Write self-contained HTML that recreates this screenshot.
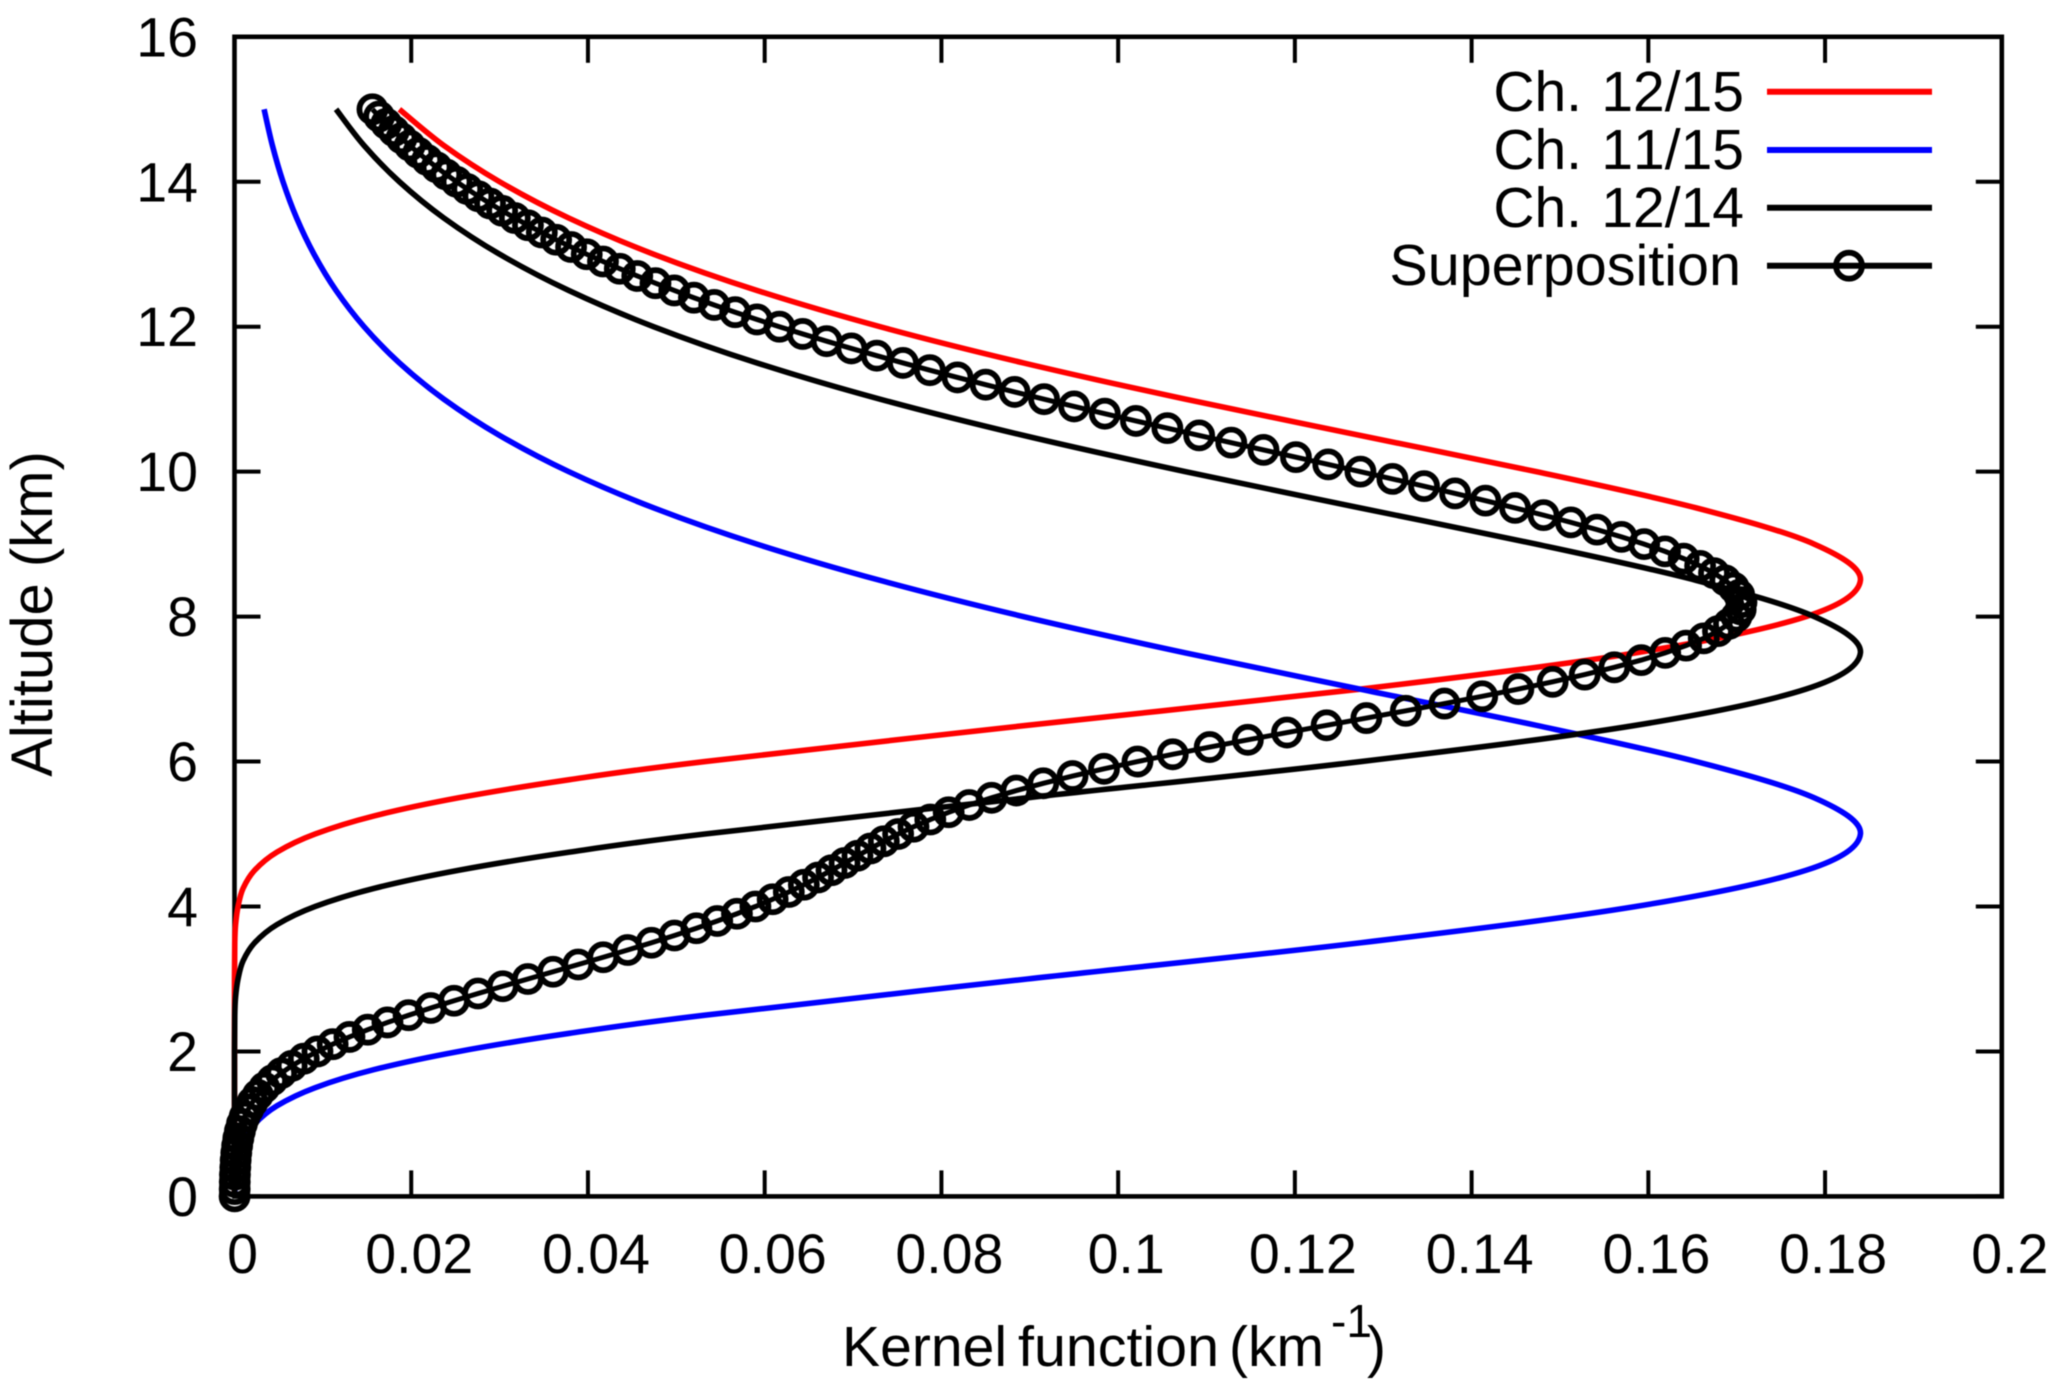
<!DOCTYPE html>
<html lang="en">
<head>
<meta charset="utf-8">
<title>Kernel function vs altitude</title>
<style>
html,body{margin:0;padding:0;background:#fff;width:2067px;height:1393px;overflow:hidden}
svg{display:block;filter:blur(0.5px)}
text{font-family:"Liberation Sans",Arial,sans-serif;fill:#000;font-kerning:none}
</style>
</head>
<body>
<svg id="chart" xmlns="http://www.w3.org/2000/svg" width="2067" height="1393" viewBox="0 0 2067 1393">
  <rect x="0" y="0" width="2067" height="1393" fill="#fff"/>
  <g id="axes"></g>
  <g id="series"></g>
  <text transform="translate(52,614) rotate(-90)" text-anchor="middle" font-size="58">Altitude (km)</text>
  <text font-size="57"><tspan x="842" y="1366" textLength="165" lengthAdjust="spacingAndGlyphs">Kernel</tspan><tspan x="1018" y="1366" textLength="201" lengthAdjust="spacingAndGlyphs">function</tspan><tspan x="1229" y="1366" textLength="95" lengthAdjust="spacingAndGlyphs">(km</tspan><tspan x="1331" y="1337" font-size="46">-1</tspan><tspan x="1367" y="1366">)</tspan></text>
  <g>
    <text x="1744" y="111" text-anchor="end" font-size="57" style="word-spacing:3.5px">Ch. 12/15</text>
    <line x1="1767" x2="1932" y1="91.7" y2="91.7" stroke="#f00" stroke-width="6"/>
    <text x="1744" y="169" text-anchor="end" font-size="57" style="word-spacing:3.5px">Ch. 11/15</text>
    <line x1="1767" x2="1932" y1="150" y2="150" stroke="#00f" stroke-width="6"/>
    <text x="1744" y="227" text-anchor="end" font-size="57" style="word-spacing:3.5px">Ch. 12/14</text>
    <line x1="1767" x2="1932" y1="207.7" y2="207.7" stroke="#000" stroke-width="6"/>
    <text x="1741" y="285" text-anchor="end" font-size="57.5">Superposition</text>
    <line x1="1767" x2="1932" y1="265.7" y2="265.7" stroke="#000" stroke-width="6"/>
    <circle cx="1849" cy="265.7" r="13" fill="none" stroke="#000" stroke-width="5.8"/>
  </g>
</svg>
<script>
const xTickValues = [0, 0.02, 0.04, 0.06, 0.08, 0.1, 0.12, 0.14, 0.16, 0.18, 0.2];
const xTickLabels = ["0", "0.02", "0.04", "0.06", "0.08", "0.1", "0.12", "0.14", "0.16", "0.18", "0.2"];
const yTickValues = [0, 2, 4, 6, 8, 10, 12, 14, 16];
const yTickLabels = ["0", "2", "4", "6", "8", "10", "12", "14", "16"];

const ch1215Altitudes = [0,1,2,3,3.5,3.75,4,4.25,4.5,4.75,5,5.25,5.5,5.75,6,6.5,7,7.5,8,8.5,9,9.5,10,10.5,11,11.5,12,12.5,13,13.5,14,14.5,15];
const ch1215Values = [0,0,0,0,0.00003,0.00012,0.0004,0.00097,0.00228,0.0048,0.00912,0.0158,0.02537,0.0379,0.05323,0.08972,0.12748,0.15857,0.17785,0.184,0.17878,0.16541,0.14732,0.12736,0.1076,0.08928,0.07305,0.05912,0.04744,0.03782,0.03,0.02369,0.01866];

const ch1115Altitudes = [0,0.25,0.5,0.75,1,1.25,1.5,1.75,2,2.25,2.5,3,3.5,4,4.5,5,5.5,6,6.5,7,7.5,8,8.5,9,9.5,10,10.5,11,11.5,12,12.5,13,13.5,14,14.5,15];
const ch1115Values = [0.00003,0.00012,0.0004,0.00097,0.00228,0.0048,0.00912,0.0158,0.02537,0.0379,0.05323,0.08972,0.12748,0.15857,0.17785,0.184,0.17878,0.16541,0.14732,0.12736,0.1076,0.08928,0.07305,0.05912,0.04744,0.03782,0.03,0.02369,0.01866,0.01466,0.01149,0.009,0.00703,0.00549,0.00429,0.00335];

const ch1214Altitudes = [0,1,2,2.5,2.75,3,3.25,3.5,3.75,4,4.25,4.5,4.75,5,5.5,6,6.5,7,7.5,8,8.5,9,9.5,10,10.5,11,11.5,12,12.5,13,13.5,14,14.5,15];
const ch1214Values = [0,0,0,0.00003,0.00012,0.0004,0.00097,0.00228,0.0048,0.00912,0.0158,0.02537,0.0379,0.05323,0.08972,0.12748,0.15857,0.17785,0.184,0.17878,0.16541,0.14732,0.12736,0.1076,0.08928,0.07305,0.05912,0.04744,0.03782,0.03,0.02369,0.01866,0.01466,0.01149];

const superpositionAltitudeStep = 0.1;
const superpositionValues = [
0.00001,0.00002,0.00003,0.00005,0.00009,0.00013,0.0002,0.0003,0.00043,0.00061,
0.00084,0.00115,0.00155,0.00204,0.00264,0.00337,0.00425,0.00528,0.00647,0.00784,
0.00939,0.01111,0.01301,0.01508,0.01731,0.0197,0.02221,0.02484,0.02756,0.03036,
0.0332,0.03605,0.0389,0.04173,0.04449,0.04719,0.04979,0.05227,0.05463,0.05686,
0.05895,0.0609,0.06273,0.06443,0.06604,0.06756,0.06904,0.0705,0.07197,0.07348,
0.0751,0.07684,0.07874,0.08082,0.08314,0.08568,0.08848,0.09153,0.09484,0.0984,
0.10219,0.10618,0.11036,0.11468,0.11911,0.12359,0.12809,0.13255,0.13693,0.1412,
0.14529,0.14917,0.1528,0.15615,0.1592,0.16191,0.16427,0.16627,0.16788,0.16912,
0.16997,0.17045,0.17054,0.17028,0.16966,0.16871,0.16743,0.16586,0.164,0.16189,
0.15953,0.15696,0.15419,0.15124,0.14814,0.14492,0.14157,0.13813,0.13462,0.13104,
0.12742,0.12378,0.12012,0.11645,0.1128,0.10917,0.10557,0.10201,0.09849,0.09502,
0.09162,0.08828,0.08501,0.08182,0.07869,0.07565,0.07269,0.06981,0.06701,0.0643,
0.06167,0.05913,0.05666,0.05429,0.05199,0.04977,0.04764,0.04558,0.0436,0.0417,
0.03986,0.03809,0.0364,0.03478,0.03321,0.03172,0.03029,0.02892,0.0276,0.02634,
0.02513,0.02397,0.02287,0.02181,0.0208,0.01983,0.0189,0.01803,0.01718,0.01637,
0.01561];

const NS = "http://www.w3.org/2000/svg";
const plotLeft = 234.5, plotRight = 2001.8, plotTop = 36.8, plotBottom = 1196.4;
const xMax = 0.2, yMax = 16;
function xScale(v) { return plotLeft + (v / xMax) * (plotRight - plotLeft); }
function yScale(v) { return plotBottom - (v / yMax) * (plotBottom - plotTop); }

const axes = document.getElementById("axes");
const series = document.getElementById("series");

function makeTick(x1, y1, x2, y2) {
  const t = document.createElementNS(NS, "line");
  t.setAttribute("x1", x1);
  t.setAttribute("y1", y1);
  t.setAttribute("x2", x2);
  t.setAttribute("y2", y2);
  t.setAttribute("stroke", "#000");
  t.setAttribute("stroke-width", "4");
  return t;
}

xTickValues.forEach(function (v, i) {
  const x = xScale(v);
  const bottom = makeTick(x, plotBottom, x, plotBottom - 26);
  
  
  axes.appendChild(bottom);
  const top = makeTick(x, plotTop, x, plotTop + 26);
  
  
  axes.appendChild(top);
  const label = document.createElementNS(NS, "text");
  label.setAttribute("x", x + 8);
  label.setAttribute("y", 1273);
  label.setAttribute("text-anchor", "middle");
  label.setAttribute("font-size", "55.5");
  label.textContent = xTickLabels[i];
  
  
  axes.appendChild(label);
});

yTickValues.forEach(function (v, i) {
  const y = yScale(v);
  const left = makeTick(plotLeft, y, plotLeft + 26, y);
  
  
  axes.appendChild(left);
  const right = makeTick(plotRight, y, plotRight - 26, y);
  
  
  axes.appendChild(right);
  const label = document.createElementNS(NS, "text");
  label.setAttribute("x", 198);
  label.setAttribute("y", y + 19.5);
  label.setAttribute("text-anchor", "end");
  label.setAttribute("font-size", "55.5");
  label.textContent = yTickLabels[i];
  
  
  axes.appendChild(label);
});

const frame = document.createElementNS(NS, "rect");
frame.setAttribute("x", plotLeft);
frame.setAttribute("y", plotTop);
frame.setAttribute("width", plotRight - plotLeft);
frame.setAttribute("height", plotBottom - plotTop);
frame.setAttribute("fill", "none");
frame.setAttribute("stroke", "#000");
frame.setAttribute("stroke-width", "4.6");


axes.appendChild(frame);

function smoothPath(altitudes, values) {
  const pts = values.map(function (v, i) { return [xScale(v), yScale(altitudes[i])]; });
  let d = "M" + pts[0][0].toFixed(2) + " " + pts[0][1].toFixed(2);
  for (let i = 0; i < pts.length - 1; i++) {
    const p0 = pts[Math.max(i - 1, 0)], p1 = pts[i], p2 = pts[i + 1], p3 = pts[Math.min(i + 2, pts.length - 1)];
    const c1x = p1[0] + (p2[0] - p0[0]) / 6, c1y = p1[1] + (p2[1] - p0[1]) / 6;
    const c2x = p2[0] - (p3[0] - p1[0]) / 6, c2y = p2[1] - (p3[1] - p1[1]) / 6;
    d += "C" + c1x.toFixed(2) + " " + c1y.toFixed(2) + " " + c2x.toFixed(2) + " " + c2y.toFixed(2) + " " + p2[0].toFixed(2) + " " + p2[1].toFixed(2);
  }
  return d;
}

function makeCurve(altitudes, values, color) {
  const p = document.createElementNS(NS, "path");
  p.setAttribute("d", smoothPath(altitudes, values));
  p.setAttribute("fill", "none");
  p.setAttribute("stroke", color);
  p.setAttribute("stroke-width", "5.6");
  return p;
}

const redCurve = makeCurve(ch1215Altitudes, ch1215Values, "#f00");


series.appendChild(redCurve);

const blueCurve = makeCurve(ch1115Altitudes, ch1115Values, "#00f");


series.appendChild(blueCurve);

const blackCurve = makeCurve(ch1214Altitudes, ch1214Values, "#000");


series.appendChild(blackCurve);

const superLine = document.createElementNS(NS, "polyline");
superLine.setAttribute("points", superpositionValues.map(function (v, i) {
  return xScale(v).toFixed(2) + "," + yScale(i * superpositionAltitudeStep).toFixed(2);
}).join(" "));
superLine.setAttribute("fill", "none");
superLine.setAttribute("stroke", "#000");
superLine.setAttribute("stroke-width", "5");


series.appendChild(superLine);

superpositionValues.forEach(function (v, i) {
  const c = document.createElementNS(NS, "circle");
  c.setAttribute("cx", xScale(v).toFixed(2));
  c.setAttribute("cy", yScale(i * superpositionAltitudeStep).toFixed(2));
  c.setAttribute("r", "13");
  c.setAttribute("fill", "none");
  c.setAttribute("stroke", "#000");
  c.setAttribute("stroke-width", "5.8");
  
  
  series.appendChild(c);
});
</script>
</body>
</html>
